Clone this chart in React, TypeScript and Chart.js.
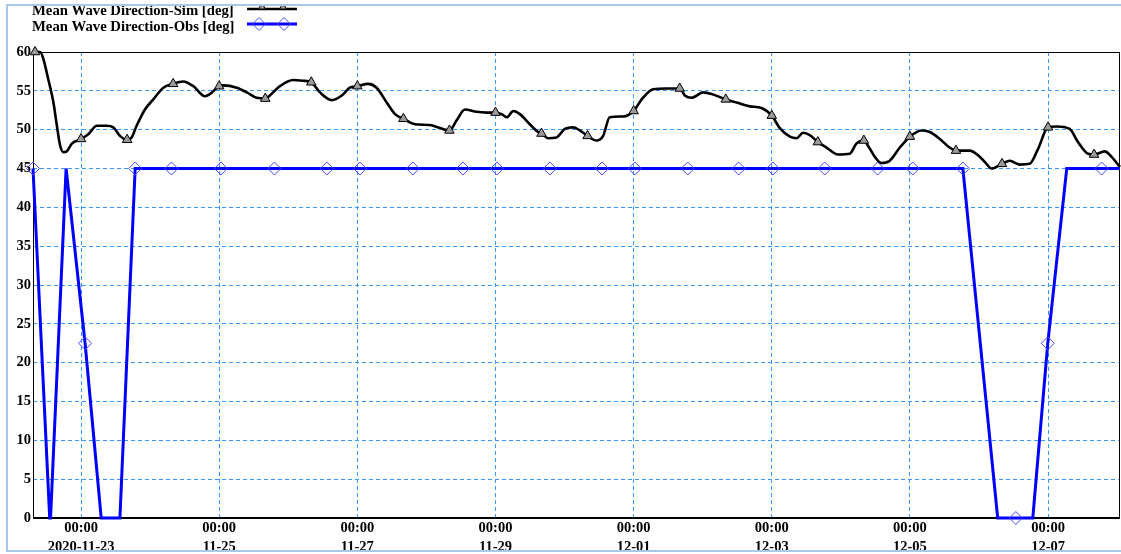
import React, { useEffect, useRef } from "react";
import { Chart, registerables } from "chart.js";

Chart.register(...registerables);

// Hours relative to 2020-11-23 00:00
const tickHours = [0, 48, 96, 144, 192, 240, 288, 336];
const tickTimes = ["00:00", "00:00", "00:00", "00:00", "00:00", "00:00", "00:00", "00:00"];
const tickDates = ["2020-11-23", "11-25", "11-27", "11-29", "12-01", "12-03", "12-05", "12-07"];

const xMinHour = -16.7;
const xMaxHour = 361;

const simLabel = "Mean Wave Direction-Sim [deg]";
const obsLabel = "Mean Wave Direction-Obs [deg]";

const simHours = [
  -16.7, -16, -14.2, -13.1, -11.4, -9.6, -8.4, -7.3, -6.1, -5, -3.2, 0, 2.5, 5.5, 8.9, 11.2, 13.5, 16,
  17.6, 19.3, 22.2, 25.1, 28.6, 32, 35.5, 39, 43.1, 44.8, 48, 49.4, 54.1, 57.6, 61, 64, 65.6, 69.1,
  73.7, 77.2, 80, 83, 87.1, 90.6, 93.4, 96, 99.8, 102.7, 106.2, 109.1, 112, 116, 121.2, 124.7, 128,
  130.5, 133.4, 137.4, 140.9, 144, 146.1, 147.9, 150.2, 152.5, 155.9, 158.8, 160, 162.3, 165.2, 168.1,
  171, 173.3, 176, 179.1, 181.4, 183.7, 188.4, 192, 194.8, 198.8, 203.4, 208, 209.8, 212.1, 216.2,
  219.1, 224, 227.8, 232.4, 236.4, 240, 242.8, 246.3, 248.6, 250.9, 253.2, 256, 259, 263, 267.1, 269.4,
  272, 273.5, 275.8, 278.1, 281, 284.5, 288, 292, 294.9, 298.4, 301.8, 304, 308.8, 311.7, 314.6, 316.3,
  320, 322.7, 326.1, 329.6, 332.5, 336, 338.9, 343.5, 346.4, 349.9, 352, 355.7, 358.1, 360.3, 361,
];
const simValues = [
  60, 60, 60, 59.1, 56.5, 53.5, 50.5, 48, 47.1, 47.2, 48.2, 48.8, 49.4, 50.5, 50.5, 50.3, 49.2, 48.7,
  49.0, 50.5, 52.6, 53.9, 55.4, 55.9, 56.2, 55.6, 54.3, 54.6, 55.6, 55.7, 55.4, 54.8, 54.1, 54.0, 54.4, 55.6,
  56.4, 56.3, 56.1, 54.8, 53.8, 54.4, 55.4, 55.6, 55.9, 55.4, 53.5, 52, 51.4, 50.7, 50.6, 50.2, 49.9,
  51.2, 52.6, 52.3, 52.2, 52.2, 52, 51.6, 52.4, 52, 50.7, 49.7, 49.5, 48.9, 49, 50.1,
  50.3, 49.9, 49.2, 48.6, 49.2, 51.6, 51.7, 52.4, 53.9, 55.2, 55.3, 55.3, 54.4, 54.1, 54.8,
  54.6, 53.9, 53.5, 53, 52.8, 51.8, 50.2, 49.1, 48.9, 49.6, 49.3, 48.4, 47.7, 46.8, 46.9, 48.2,
  48.6, 47.9, 46.5, 45.7, 46.0, 47.7, 49.1, 49.9, 49.7, 48.8, 47.7, 47.3, 47.3, 46.7, 45.6, 45.0,
  45.6, 46.0, 45.5, 45.6, 47.5, 50.3, 50.4, 50.1, 48.4, 46.9, 46.8, 47.2, 46.5, 45.5, 45.2,
];
const simMarkerEveryHours = 16;

const obsHours = [
  -16.7, -10.9, -10.6, -5.2, -4.9, 1.4, 7, 13.5, 18.8, 31.4, 48.6, 67.2, 85.4, 96.9, 115.3, 132.7,
  144.5, 162.9, 181, 192.4, 210.8, 228.5, 240.4, 258.4, 276.8, 289, 306.4, 318.5, 324.8, 330.7,
  335.9, 342.5, 354.6, 361,
];
const obsValues = [
  45, 0, 0, 45, 45, 22.5, 0, 0, 45, 45, 45, 45, 45, 45, 45, 45,
  45, 45, 45, 45, 45, 45, 45, 45, 45, 45, 45, 0, 0, 0,
  22.5, 45, 45, 45,
];
const obsMarkerHours = [
  -16.7, 1.4, 18.8, 31.4, 48.6, 67.2, 85.4, 96.9, 115.3, 132.7, 144.5, 162.9, 181, 192.4, 210.8,
  228.5, 240.4, 258.4, 276.8, 289, 306.4, 324.8, 335.9, 354.6,
];

const FONT = '"Liberation Serif", "Times New Roman", serif';
const GRID_COLOR = "#3399ff";
const FRAME_COLOR = "#a8c8e8";
const TRI_FILL = "#9a9a9a";
const DIAMOND_COLOR = "#4848ff";

function drawTriangle(ctx: CanvasRenderingContext2D, x: number, y: number, r: number) {
  ctx.beginPath();
  ctx.moveTo(x, y - r);
  ctx.lineTo(x + r * Math.sin((2 * Math.PI) / 3), y - r * Math.cos((2 * Math.PI) / 3));
  ctx.lineTo(x - r * Math.sin((2 * Math.PI) / 3), y - r * Math.cos((2 * Math.PI) / 3));
  ctx.closePath();
  ctx.fillStyle = TRI_FILL;
  ctx.fill();
  ctx.strokeStyle = "#000";
  ctx.lineWidth = 1;
  ctx.stroke();
}

function drawDiamond(ctx: CanvasRenderingContext2D, x: number, y: number, r: number) {
  ctx.beginPath();
  ctx.moveTo(x, y - r);
  ctx.lineTo(x + r, y);
  ctx.lineTo(x, y + r);
  ctx.lineTo(x - r, y);
  ctx.closePath();
  ctx.strokeStyle = DIAMOND_COLOR;
  ctx.lineWidth = 1;
  ctx.stroke();
}

const framePlugin = {
  id: "framePlugin",
  beforeDatasetsDraw(chart: any) {
    const { ctx, chartArea } = chart;
    ctx.save();
    ctx.strokeStyle = "#000";
    ctx.lineWidth = 1;
    ctx.strokeRect(chartArea.left + 0.5, chartArea.top + 0.5, chartArea.right - chartArea.left - 1, chartArea.bottom - chartArea.top);
    ctx.lineWidth = 2;
    ctx.beginPath();
    ctx.moveTo(chartArea.left, chartArea.bottom);
    ctx.lineTo(chartArea.right, chartArea.bottom);
    ctx.stroke();
    ctx.restore();
  },
  afterDraw(chart: any) {
    const { ctx } = chart;
    ctx.save();
    ctx.font = `bold 14.7px ${FONT}`;
    ctx.fillStyle = "#000";
    ctx.textBaseline = "alphabetic";
    ctx.textAlign = "left";
    ctx.fillText(simLabel, 32, 15);
    ctx.fillText(obsLabel, 32, 30.5);

    // sim sample
    ctx.strokeStyle = "#000";
    ctx.lineWidth = 2.5;
    ctx.beginPath();
    ctx.moveTo(247, 9);
    ctx.lineTo(297, 9);
    ctx.stroke();
    drawTriangle(ctx, 262, 7, 4);
    drawTriangle(ctx, 283, 7, 4);

    // obs sample
    ctx.strokeStyle = "#0000ff";
    ctx.lineWidth = 3;
    ctx.beginPath();
    ctx.moveTo(247, 24);
    ctx.lineTo(297, 24);
    ctx.stroke();
    drawDiamond(ctx, 259, 24, 6.5);
    drawDiamond(ctx, 284, 24, 6.5);

    // clip above frame and draw outer frame
    ctx.fillStyle = "#fff";
    ctx.fillRect(0, 0, chart.width, 4);
    ctx.strokeStyle = FRAME_COLOR;
    ctx.lineWidth = 2;
    ctx.beginPath();
    ctx.moveTo(chart.width, 5);
    ctx.lineTo(7, 5);
    ctx.lineTo(7, 551);
    ctx.lineTo(chart.width, 551);
    ctx.stroke();
    ctx.restore();
  },
};

export default function App() {
  const canvasRef = useRef<HTMLCanvasElement | null>(null);

  useEffect(() => {
    const canvas = canvasRef.current;
    if (!canvas) return;

    const simData = simHours.map((h, i) => ({ x: h, y: simValues[i] }));
    const obsData = obsHours.map((h, i) => ({ x: h, y: obsValues[i] }));

    const tickFont = { family: FONT, weight: "bold" as const, size: 14.5, lineHeight: "19px" };

    const chart = new Chart(canvas, {
      type: "line",
      data: {
        datasets: [
          {
            label: simLabel,
            data: simData,
            borderColor: "#000",
            borderWidth: 2.6,
            cubicInterpolationMode: "monotone",
            clip: false as any,
            pointStyle: "triangle",
            pointRadius: (c: any) => {
              const h = c.raw ? c.raw.x : NaN;
              return Number.isInteger(h) && h % simMarkerEveryHours === 0 ? 5.5 : 0;
            },
            pointHoverRadius: 0,
            pointBackgroundColor: TRI_FILL,
            pointBorderColor: "#000",
            pointBorderWidth: 1,
          },
          {
            label: obsLabel,
            data: obsData,
            borderColor: "#0000ff",
            borderWidth: 3,
            tension: 0,
            clip: false as any,
            pointStyle: "rectRot",
            pointRadius: (c: any) => (c.raw && obsMarkerHours.includes(c.raw.x) ? 6.5 : 0),
            pointHoverRadius: 0,
            pointBackgroundColor: "rgba(0,0,0,0)",
            pointBorderColor: DIAMOND_COLOR,
            pointBorderWidth: 1,
          },
        ],
      },
      options: {
        responsive: false,
        devicePixelRatio: 1,
        animation: false,
        events: [],
        layout: { autoPadding: false, padding: { top: 52, left: 0, right: 1, bottom: 0 } },
        plugins: {
          legend: { display: false },
          tooltip: { enabled: false },
        },
        scales: {
          x: {
            type: "linear",
            min: xMinHour,
            max: xMaxHour,
            afterBuildTicks: (s: any) => {
              s.ticks = tickHours.map((v) => ({ value: v }));
            },
            afterFit: (s: any) => {
              s.height = 36;
              s.paddingLeft = 0;
              s.paddingRight = 0;
            },
            ticks: {
              autoSkip: false,
              maxRotation: 0,
              minRotation: 0,
              padding: 1,
              color: "#000",
              font: tickFont,
              callback: (v: any) => {
                const i = tickHours.indexOf(Number(v));
                return i >= 0 ? [tickTimes[i], tickDates[i]] : "";
              },
            },
            grid: { color: GRID_COLOR, lineWidth: 1, drawTicks: false },
            border: { display: false, dash: [4, 3] },
          },
          y: {
            type: "linear",
            min: 0,
            max: 60,
            afterFit: (s: any) => {
              s.width = 33;
              s.paddingTop = 0;
              s.paddingBottom = 0;
            },
            ticks: {
              stepSize: 5,
              padding: 2,
              color: "#000",
              font: tickFont,
            },
            grid: { color: GRID_COLOR, lineWidth: 1, drawTicks: false },
            border: { display: false, dash: [4, 3] },
          },
        },
      },
      plugins: [framePlugin],
    });

    return () => chart.destroy();
  }, []);

  return (
    <canvas
      ref={canvasRef}
      width={1121}
      height={554}
      style={{ position: "fixed", left: 0, top: 0, width: 1121, height: 554, background: "#fff" }}
    />
  );
}
